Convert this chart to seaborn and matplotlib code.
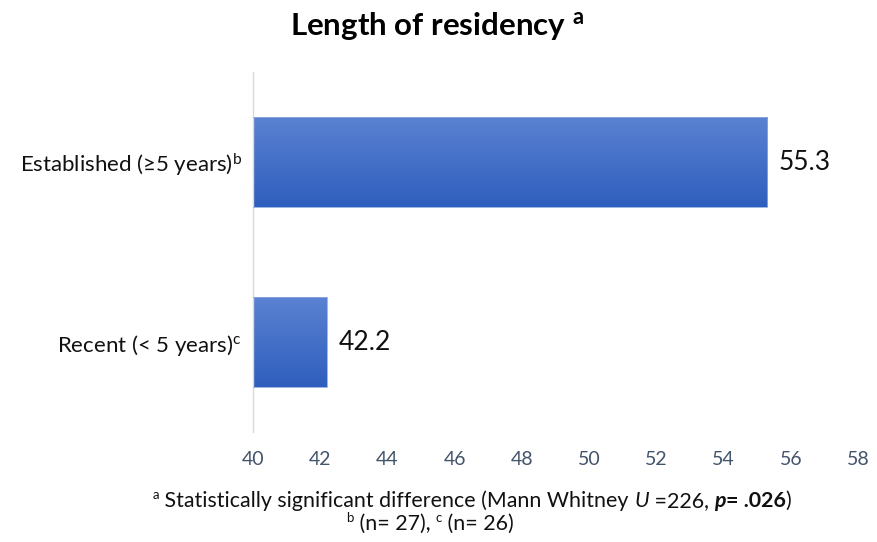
import numpy as np
import matplotlib
matplotlib.use("Agg")
import matplotlib.pyplot as plt
import seaborn as sns
import pandas as pd
from matplotlib.colors import LinearSegmentedColormap

categories = ["Established (≥5 years)", "Recent (< 5 years)"]
superscripts = ["b", "c"]
values = [55.3, 42.2]
x_ticks = [40, 42, 44, 46, 48, 50, 52, 54, 56, 58]

sns.set_theme(style="white")
plt.rcParams["font.family"] = ["Lato", "DejaVu Sans"]
plt.rcParams["mathtext.fontset"] = "custom"
plt.rcParams["mathtext.rm"] = "Lato"
plt.rcParams["mathtext.it"] = "Lato:italic"
plt.rcParams["mathtext.bf"] = "Lato:bold"

df = pd.DataFrame({"group": categories, "score": values})

W, H = 877, 542
fig = plt.figure(figsize=(W / 100, H / 100), dpi=100)
ax = fig.add_axes([253 / W, 1 - 432 / H, (858 - 253) / W, (432 - 72) / H])

sns.barplot(data=df, x="score", y="group", orient="h", width=0.5,
            color="#3c68c6", ax=ax)

ax.set_xlim(40, 58)
ax.set_ylim(1.5, -0.5)

# vertical gradient fill for each bar
cmap = LinearSegmentedColormap.from_list("bar", ["#5b82d2", "#2e5ebd"])
grad = np.linspace(0, 1, 256).reshape(-1, 1)
for patch in ax.patches:
    x0, y0 = patch.get_x(), patch.get_y()
    w, h = patch.get_width(), patch.get_height()
    if x0 < 40:
        w = w - (40 - x0)
        x0 = 40
    im = ax.imshow(grad, cmap=cmap, aspect="auto",
                   extent=(x0, x0 + w, y0 + h, y0), origin="upper", zorder=2)
    im.set_clip_path(patch)
    patch.set_facecolor("none")
    patch.set_edgecolor("#8fa9e0")
    patch.set_linewidth(0.6)
    patch.set_zorder(3)
ax.set_xlim(40, 58)
ax.set_ylim(1.5, -0.5)

for i, v in enumerate(values):
    ax.text(v + 0.35, i, f"{v:.1f}", va="center", ha="left",
            fontsize=19, color="#111111")

ax.set_xticks(x_ticks)
ax.set_xticklabels([str(t) for t in x_ticks], fontsize=14, color="#44546a")
ax.tick_params(axis="x", length=0, pad=14)
ax.set_yticks(range(len(categories)))
ax.set_yticklabels([f"{c}$^{{\\mathrm{{{s}}}}}$" for c, s in zip(categories, superscripts)],
                   fontsize=16, color="#111111")
ax.tick_params(axis="y", length=0, pad=8)
ax.set_xlabel("")
ax.set_ylabel("")

for side in ["top", "right", "bottom"]:
    ax.spines[side].set_visible(False)
ax.spines["left"].set_color("#d9d9d9")
ax.spines["left"].set_linewidth(1.0)

fig.text(437 / W, 1 - 27 / H, "Length of residency $^{\\mathbf{a}}$",
         ha="center", va="center", fontsize=22.5, fontweight="bold", color="#000000")

renderer = fig.canvas.get_renderer()


def rich_line(pieces, cx, baseline, size):
    """Lay out styled text pieces side by side on one baseline, centred at cx (pixels)."""
    arts = []
    x = 0.0
    for txt, style in pieces:
        kw = dict(fontsize=size, color="#111111", va="baseline", ha="left")
        dy = 0.0
        if style == "sup":
            kw["fontsize"] = size * 0.62
            dy = size * 0.55
        elif style == "it":
            kw["fontstyle"] = "italic"
        elif style == "bf":
            kw["fontweight"] = "bold"
        elif style == "bfit":
            kw["fontweight"] = "bold"
            kw["fontstyle"] = "italic"
        t = fig.text(0, 0, txt, transform=None, **kw)
        t._dy = dy
        wpx = t.get_window_extent(renderer).width
        arts.append((t, x))
        x += wpx
    start = cx - x / 2
    for t, off in arts:
        t.set_position((start + off, H - baseline + t._dy))


fs = 15.4
rich_line([("a", "sup"), (" Statistically significant difference (Mann Whitney ", "rm"),
           ("U", "it"), (" =226, ", "rm"), ("p", "bfit"), ("= .026", "bf"), (")", "rm")],
          472, 507, fs)
rich_line([("b", "sup"), (" (n= 27), ", "rm"), ("c", "sup"), (" (n= 26)", "rm")],
          430, 530, fs)

fig.savefig("out.png", dpi=100)
